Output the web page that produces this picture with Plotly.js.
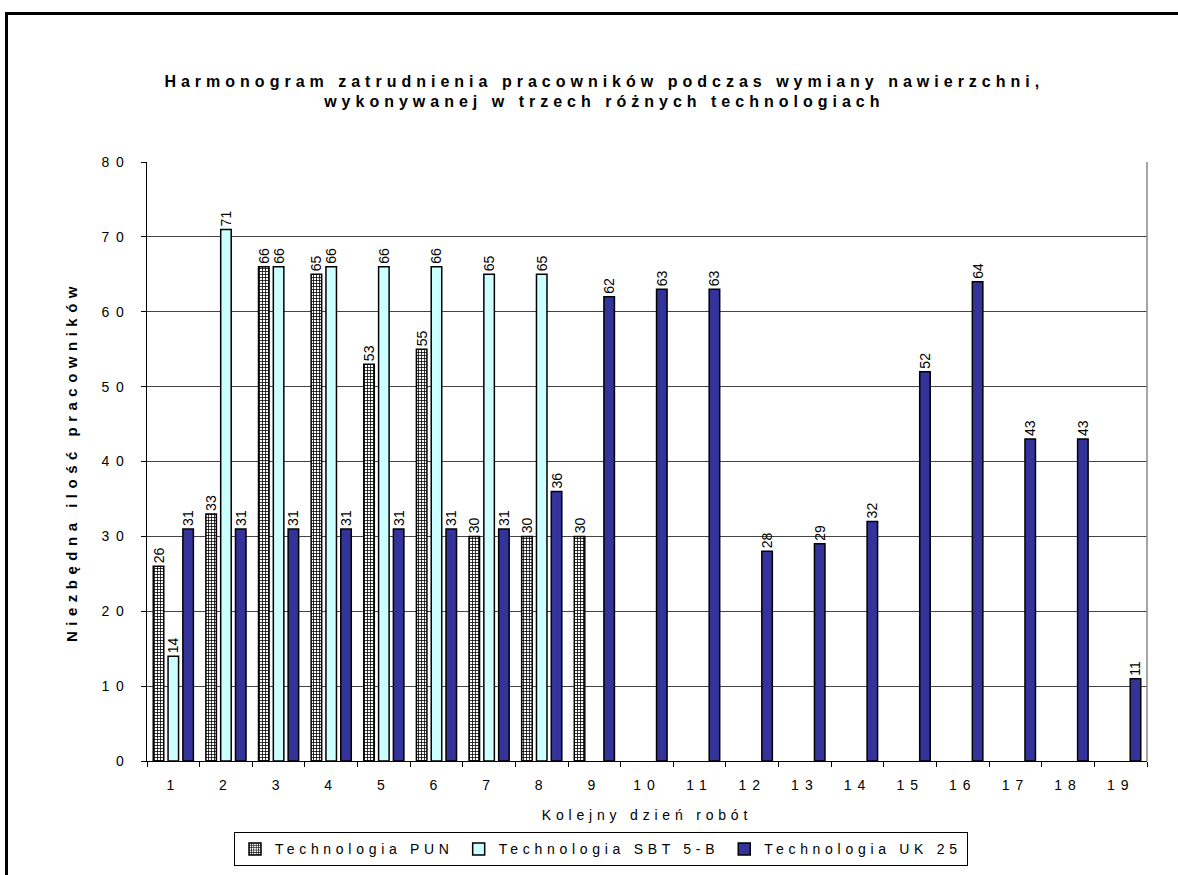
<!DOCTYPE html>
<html>
<head>
<meta charset="utf-8">
<script src="https://cdn.plot.ly/plotly-3.0.1.min.js"></script>
<style>
  html, body { margin: 0; padding: 0; background: #fff; }
  #wrap { position: relative; width: 1178px; height: 875px; overflow: hidden; }
  #chart { width: 1178px; height: 875px; }
  #frame { position: absolute; left: 5px; top: 12px; width: 1200px; height: 900px;
           border-left: 3px solid #000; border-top: 3px solid #000; pointer-events: none; }
  .gtitle { letter-spacing: 5px; }
  .ytick text { letter-spacing: 6.5px; }
  .xtick text { letter-spacing: 6px; }
  .g-xtitle text { letter-spacing: 4.8px; }
  .g-ytitle text { letter-spacing: 5.5px; }
  .legendtext { letter-spacing: 4.7px; }
</style>
</head>
<body>
<div id="wrap">
  <div id="chart"></div>
  <div id="frame"></div>
</div>
<script>
const days = ['1','2','3','4','5','6','7','8','9','10','11','12','13','14','15','16','17','18','19'];
const punDays = ['1','2','3','4','5','6','7','8','9'];
const punValues = [26, 33, 66, 65, 53, 55, 30, 30, 30];
const sbtDays = ['1','2','3','4','5','6','7','8'];
const sbtValues = [14, 71, 66, 66, 66, 66, 65, 65];
const ukDays = days;
const ukValues = [31, 31, 31, 31, 31, 31, 31, 36, 62, 63, 63, 28, 29, 32, 52, 64, 43, 43, 11];
const seriesNames = ['Technologia PUN', 'Technologia SBT 5-B', 'Technologia UK 25'];

const FONT = 'Liberation Sans, Arial, sans-serif';
const common = {
  type: 'bar',
  textposition: 'outside',
  textangle: -90,
  constraintext: 'none',
  cliponaxis: false,
  textfont: {family: FONT, size: 14, color: '#000'},
  hoverinfo: 'x+y'
};

const traces = [
  Object.assign({}, common, {
    name: seriesNames[0], x: punDays, y: punValues, text: punValues.map(String),
    marker: {color: '#ffffff', line: {color: '#000', width: 1.5},
             pattern: {shape: '+', size: 3, solidity: 0.45, fgcolor: '#000', bgcolor: '#ffffff', fillmode: 'replace'}}
  }),
  Object.assign({}, common, {
    name: seriesNames[1], x: sbtDays, y: sbtValues, text: sbtValues.map(String),
    marker: {color: '#CCFFFF', line: {color: '#000', width: 1.5}}
  }),
  Object.assign({}, common, {
    name: seriesNames[2], x: ukDays, y: ukValues, text: ukValues.map(String),
    marker: {color: '#333399', line: {color: '#000', width: 1.5}}
  })
];

const layout = {
  width: 1178, height: 875,
  margin: {l: 147, r: 31, t: 162, b: 114, autoexpand: false},
  paper_bgcolor: '#ffffff', plot_bgcolor: '#ffffff',
  font: {family: FONT, size: 14, color: '#000'},
  barmode: 'group',
  bargap: 0.156,
  bargroupgap: 0.29,
  showlegend: true,
  title: {
    text: 'Harmonogram zatrudnienia pracowników podczas wymiany nawierzchni,<br>wykonywanej w trzech różnych technologiach',
    font: {family: FONT, size: 16, color: '#000', weight: 'bold'},
    x: 0.513, xanchor: 'center', y: 0.901, yanchor: 'top', yref: 'container'
  },
  xaxis: {
    type: 'category',
    categoryorder: 'array', categoryarray: days,
    range: [-0.5, 18.5],
    automargin: false,
    showline: true, linecolor: '#000', linewidth: 1,
    ticks: 'outside', tickson: 'boundaries', ticklen: 5, tickcolor: '#000',
    ticklabelstandoff: 11,
    showgrid: false, zeroline: false,
    tickfont: {family: FONT, size: 14},
    title: {text: 'Kolejny dzień robót', font: {family: FONT, size: 14}, standoff: 18}
  },
  yaxis: {
    range: [0, 80], dtick: 10, tick0: 0,
    automargin: false,
    showline: true, linecolor: '#000', linewidth: 1,
    ticks: 'outside', ticklen: 5, tickcolor: '#000',
    ticklabelstandoff: 8,
    showgrid: true, gridcolor: '#444', gridwidth: 1,
    zeroline: false,
    tickfont: {family: FONT, size: 14},
    title: {text: 'Niezbędna ilość pracowników', font: {family: FONT, size: 15, weight: 'bold'}, standoff: 20}
  },
  legend: {
    orientation: 'h', x: 0.454, xanchor: 'center', y: -0.119, yanchor: 'top',
    bordercolor: '#000', borderwidth: 1, bgcolor: '#fff',
    font: {family: FONT, size: 14},
    itemwidth: 30, tracegroupgap: 0
  },
  shapes: [
    {type: 'line', xref: 'paper', yref: 'paper', x0: 1, x1: 1, y0: 0, y1: 1, line: {color: '#888', width: 1.5}}
  ]
};

Plotly.newPlot('chart', traces, layout, {displayModeBar: false});
</script>
</body>
</html>
